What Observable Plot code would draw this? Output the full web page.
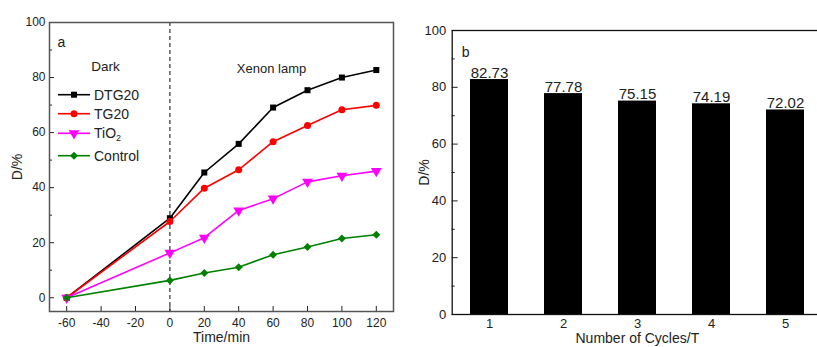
<!DOCTYPE html>
<html><head><meta charset="utf-8">
<script src="https://cdn.jsdelivr.net/npm/d3@7"></script>
<script src="https://cdn.jsdelivr.net/npm/@observablehq/plot@0.6"></script>
<style>
html,body{margin:0;padding:0;background:#fff;overflow:hidden}
#wrap{position:relative;width:817px;height:347px;overflow:hidden;font-family:Arial,"Liberation Sans",sans-serif}
#wrap svg{position:absolute;top:0;max-width:none}
</style></head><body><div id="wrap"></div>
<script>
// ---- Panel a data ----
const times = [-60, 0, 20, 40, 60, 80, 100, 120];
const dtg20 = [0, 28.9, 45.5, 55.9, 69.1, 75.4, 80.0, 82.73];
const tg20 = [0, 27.7, 39.8, 46.5, 56.7, 62.6, 68.3, 69.9];
const tio2 = [0, 16.3, 21.8, 31.7, 36.0, 42.1, 44.3, 46.0];
const control = [0, 6.3, 9.0, 11.1, 15.6, 18.4, 21.5, 22.9];
const seriesNames = ["DTG20", "TG20", "TiO2", "Control"];
const xTicksA = [-60, -40, -20, 0, 20, 40, 60, 80, 100, 120];
const yTicks = [0, 20, 40, 60, 80, 100];
const yMinor = [10, 30, 50, 70, 90];
// ---- Panel b data ----
const cycles = [1, 2, 3, 4, 5];
const removal = [82.73, 77.78, 75.15, 74.19, 72.02];

const FONT = 'Arial, "Liberation Sans", sans-serif';
const triangleDown = {
  draw(ctx, size) {
    const y = -Math.sqrt(size / (Math.sqrt(3) * 3));
    ctx.moveTo(0, -2 * y);
    ctx.lineTo(-Math.sqrt(3) * y, y);
    ctx.lineTo(Math.sqrt(3) * y, y);
    ctx.closePath();
  }
};
const valuesBy = {DTG20: dtg20, TG20: tg20, TiO2: tio2, Control: control};
const colorBy = {DTG20: "#000000", TG20: "#ff0000", TiO2: "#ff00ff", Control: "#008000"};
const symbolBy = {DTG20: "square", TG20: "circle", TiO2: triangleDown, Control: "diamond2"};
const d3SymbolBy = {DTG20: d3.symbolSquare, TG20: d3.symbolCircle, TiO2: triangleDown, Control: d3.symbolDiamond2};
const rBy = {DTG20: 3.4, TG20: 3.5, TiO2: 4, Control: 3.6};

const rows = seriesNames.flatMap(name => times.map((t, i) => ({series: name, t, D: valuesBy[name][i]})));

const seriesMarks = seriesNames.flatMap(name => {
  const data = rows.filter(r => r.series === name);
  return [
    Plot.line(data, {x: "t", y: "D", stroke: colorBy[name], strokeWidth: 1.6}),
    Plot.dot(data, {x: "t", y: "D", symbol: () => symbolBy[name], fill: colorBy[name], stroke: "none", r: rBy[name]})
  ];
});

const left = Plot.plot({
  width: 420, height: 347,
  marginLeft: 49, marginRight: 27, marginTop: 22, marginBottom: 36,
  style: {fontFamily: FONT, fontSize: "12px", color: "#222", background: "transparent"},
  x: {domain: [-70, 130]},
  y: {domain: [-5, 100]},
  symbol: {type: "identity"},
  marks: [
    Plot.ruleX([0], {stroke: "#333", strokeWidth: 1.2, strokeDasharray: "4,3"}),
    ...seriesMarks,
    Plot.axisX({ticks: xTicksA, tickSize: -5, tickPadding: 12, tickFormat: d => String(d), label: null, fontSize: 12}),
    Plot.axisY({ticks: yTicks, tickSize: -5, tickPadding: 9, tickFormat: d => String(d), label: null, fontSize: 12}),
    Plot.axisY({ticks: yMinor, tickSize: -3, tickFormat: () => "", label: null}),
    Plot.frame({stroke: "#555", strokeWidth: 1.5}),
    Plot.text(["a"], {text: d => d, frameAnchor: "top-left", dx: 8, dy: 15, textAnchor: "start", fontSize: 14}),
    Plot.text(["Dark"], {text: d => d, frameAnchor: "top-left", dx: 56, dy: 39, textAnchor: "middle", fontSize: 13.5}),
    Plot.text(["Xenon lamp"], {text: d => d, frameAnchor: "top-left", dx: 222, dy: 41, textAnchor: "middle", fontSize: 13}),
    Plot.text(["Time/min"], {text: d => d, frameAnchor: "bottom", dy: 30, textAnchor: "middle", fontSize: 14}),
    Plot.text(["D/%"], {text: d => d, frameAnchor: "left", dx: -32, rotate: -90, textAnchor: "middle", fontSize: 14})
  ]
});
left.style.left = "0px";
document.getElementById("wrap").appendChild(left);

// legend inside panel a
const svgA = d3.select(left);
const legendY = {DTG20: 94.7, TG20: 113.7, TiO2: 133.3, Control: 155.7};
const lg = svgA.append("g").attr("font-family", FONT).attr("font-size", 14).attr("fill", "#222").attr("text-anchor", "start");
seriesNames.forEach(name => {
  const y = legendY[name];
  lg.append("line").attr("x1", 58).attr("x2", 90).attr("y1", y).attr("y2", y)
    .attr("stroke", colorBy[name]).attr("stroke-width", 1.6);
  const r = rBy[name];
  lg.append("path").attr("transform", `translate(74,${y})`)
    .attr("d", d3.symbol(d3SymbolBy[name], Math.PI * r * r)()).attr("fill", colorBy[name]);
  const t = lg.append("text").attr("x", 94).attr("y", y).attr("dy", "0.35em").attr("text-anchor", "start");
  if (name === "TiO2") {
    t.append("tspan").text("TiO");
    t.append("tspan").attr("font-size", 9).attr("dy", "0.35em").text("2");
  } else t.text(name);
});

// ---- Panel b ----
const bars = cycles.map((c, i) => ({cycle: c, D: removal[i]}));
const right = Plot.plot({
  width: 417, height: 347,
  marginLeft: 46.7, marginRight: 0, marginTop: 30, marginBottom: 33,
  style: {fontFamily: FONT, fontSize: "13px", color: "#222", background: "transparent"},
  x: {type: "band", domain: cycles, paddingInner: 0.49, paddingOuter: 0.235},
  y: {domain: [0, 100]},
  marks: [
    Plot.barY(bars, {x: "cycle", y: "D", fill: "#000"}),
    Plot.text(bars, {x: "cycle", y: "D", text: d => d.D.toFixed(2), dy: -2, lineAnchor: "bottom", fontSize: 15}),
    Plot.axisX({tickSize: 0, tickPadding: 4, tickFormat: d => String(d), label: null, fontSize: 13}),
    Plot.axisY({ticks: yTicks, tickSize: -6, tickPadding: 12, tickFormat: d => String(d), label: null, fontSize: 13}),
    Plot.axisY({ticks: yMinor, tickSize: -3, tickFormat: () => "", label: null}),
    Plot.frame({stroke: "#111", strokeWidth: 1.3}),
    Plot.text(["b"], {text: d => d, frameAnchor: "top-left", dx: 9.5, dy: 17, textAnchor: "start", fontSize: 14}),
    Plot.text(["Number of Cycles/T"], {text: d => d, frameAnchor: "bottom", dy: 28, textAnchor: "middle", fontSize: 14}),
    Plot.text(["D/%"], {text: d => d, frameAnchor: "left", dx: -28, rotate: -90, textAnchor: "middle", fontSize: 14})
  ]
});
right.style.left = "405px";
document.getElementById("wrap").appendChild(right);
</script></body></html>
